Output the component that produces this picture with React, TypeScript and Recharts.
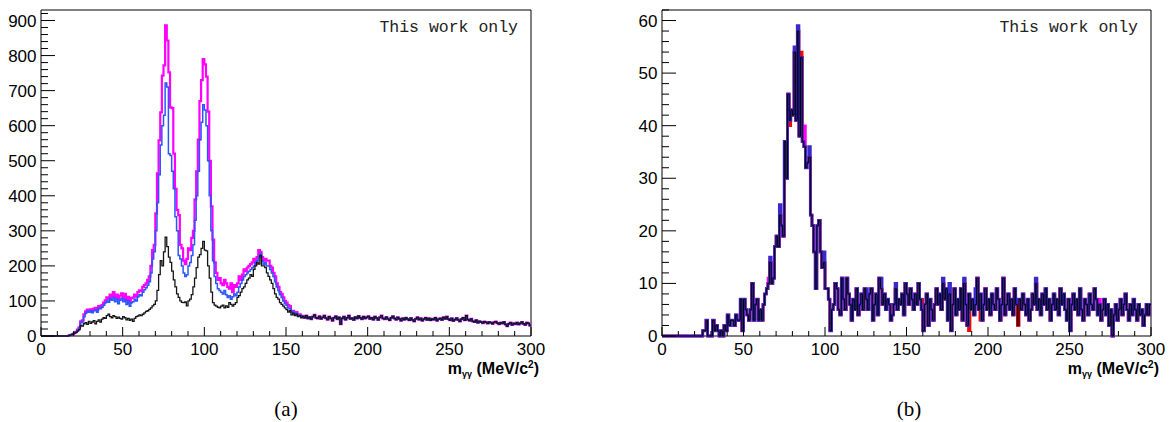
import React from 'react';
import { LineChart, Line, XAxis, YAxis, ReferenceArea } from 'recharts';

// 1 MeV bins, 0..300 MeV
const xTicks = [0, 10, 20, 30, 40, 50, 60, 70, 80, 90, 100, 110, 120, 130, 140, 150, 160, 170, 180, 190, 200,
  210, 220, 230, 240, 250, 260, 270, 280, 290, 300];

const yTicksA = [0, 20, 40, 60, 80, 100, 120, 140, 160, 180, 200, 220, 240, 260, 280, 300, 320, 340, 360, 380,
  400, 420, 440, 460, 480, 500, 520, 540, 560, 580, 600, 620, 640, 660, 680, 700, 720, 740, 760, 780,
  800, 820, 840, 860, 880, 900, 920];

const yTicksB = [0, 2, 4, 6, 8, 10, 12, 14, 16, 18, 20, 22, 24, 26, 28, 30, 32, 34, 36, 38, 40,
  42, 44, 46, 48, 50, 52, 54, 56, 58, 60, 62];

// panel (a), bins 0..159
const aMagenta = [
  0, 0, 0, 0, 0, 0, 0, 0, 0, 0,
  0, 0, 0, 0, 0, 0, 0, 2, 3, 5,
  8, 12, 18, 25, 42, 45, 62, 70, 75, 72,
  76, 70, 78, 80, 74, 85, 82, 88, 95, 102,
  110, 105, 118, 112, 125, 110, 118, 105, 115, 122,
  108, 120, 100, 112, 95, 108, 110, 118, 112, 125,
  130, 128, 140, 145, 150, 160, 170, 200, 245, 260,
  350, 464, 558, 638, 743, 772, 886, 843, 752, 652,
  650, 520, 420, 360, 345, 260, 250, 215, 205, 220,
  250, 245, 280, 300, 390, 470, 560, 670, 730, 790,
  775, 740, 640, 500, 370, 275, 210, 180, 160, 165,
  150, 145, 160, 150, 140, 135, 150, 125, 145, 140,
  150, 170, 160, 175, 190, 185, 195, 200, 205, 210,
  220, 205, 225, 245, 240, 225, 215, 220, 215, 215,
  200, 195, 180, 170, 150, 140, 125, 120, 110, 100,
  95, 88, 85, 70, 72, 65, 68, 60, 62, 58,
];

const aBlue = [
  0, 0, 0, 0, 0, 0, 0, 0, 0, 0,
  0, 0, 0, 0, 0, 0, 0, 2, 3, 5,
  8, 11, 16, 22, 38, 40, 55, 65, 70, 68,
  72, 66, 72, 75, 68, 80, 78, 82, 88, 95,
  100, 96, 108, 102, 110, 98, 106, 92, 102, 108,
  98, 104, 90, 100, 85, 95, 98, 105, 100, 112,
  118, 115, 125, 132, 138, 145, 155, 180, 220, 240,
  300, 380, 460, 545, 600, 630, 722, 710, 520, 515,
  470, 420, 340, 300, 230, 220, 200, 180, 170, 175,
  200, 210, 230, 260, 330, 400, 470, 560, 610, 660,
  645, 600, 500, 400, 300, 215, 170, 150, 135, 130,
  125, 120, 130, 118, 110, 115, 105, 112, 120, 115,
  125, 140, 150, 160, 170, 175, 180, 185, 190, 195,
  200, 210, 215, 225, 235, 215, 205, 210, 200, 200,
  190, 180, 170, 155, 140, 130, 118, 110, 100, 92,
  88, 80, 78, 68, 70, 62, 65, 58, 60, 55,
];

const aBlack = [
  0, 0, 0, 0, 0, 0, 0, 0, 0, 0,
  0, 0, 0, 0, 0, 0, 0, 2, 3, 5,
  8, 10, 14, 18, 30, 28, 35, 38, 33, 42,
  36, 40, 44, 35, 42, 46, 40, 48, 52, 50,
  58, 62, 55, 52, 58, 55, 50, 54, 50, 48,
  55, 52, 46, 50, 45, 48, 42, 50, 55, 57,
  60, 58, 62, 66, 70, 72, 76, 80, 86, 90,
  100, 130, 175, 215, 200, 240, 282, 255, 225, 210,
  185, 160, 140, 120, 110, 100, 96, 95, 97, 86,
  100, 105, 118, 140, 165, 195, 225, 232, 250, 270,
  245, 243, 200, 165, 125, 95, 88, 85, 82, 80,
  85, 88, 80, 86, 82, 95, 90, 85, 90, 95,
  110, 115, 125, 135, 140, 150, 160, 165, 175, 170,
  190, 200, 210, 205, 230, 200, 200, 195, 180, 170,
  160, 150, 135, 120, 110, 105, 95, 90, 85, 80,
  75, 68, 72, 60, 65, 58, 62, 55, 58, 52,
];

// panel (a), bins 160..299, the three curves coincide here
const aTail = [
  56, 52, 58, 50, 54, 48, 55, 60, 52, 50, 56, 49, 53, 58, 51, 47, 55, 50, 44, 52,
  56, 48, 53, 34, 50, 55, 47, 52, 58, 49, 51, 46, 54, 50, 57, 52, 48, 55, 50, 53,
  56, 49, 52, 47, 55, 51, 46, 53, 58, 50, 48, 54, 49, 45, 52, 56, 50, 47, 53, 49,
  44, 50, 47, 52, 48, 45, 51, 46, 42, 49, 53, 47, 50, 44, 48, 52, 46, 50, 45, 49,
  47, 52, 44, 48, 50, 46, 53, 49, 55, 48, 45, 50, 43, 47, 51, 46, 42, 48, 52, 45,
  58, 47, 44, 49, 42, 40, 45, 38, 42, 40, 37, 41, 39, 36, 40, 38, 35, 39, 41, 37,
  34, 38, 36, 40, 33, 28, 35, 38, 32, 36, 34, 38, 33, 36, 40, 35, 32, 38, 36, 30,
];

// panel (b), bins 0..299 (black curve)
const bCounts = [
  0, 0, 0, 0, 0, 0, 0, 0, 0, 0,
  0, 0, 0, 0, 0, 0, 0, 0, 0, 0,
  0, 0, 0, 0, 0, 1, 1, 3, 0, 0,
  0, 3, 1, 2, 1, 0, 1, 0, 2, 1,
  4, 2, 3, 3, 2, 4, 3, 3, 7, 1,
  7, 5, 4, 3, 5, 10, 3, 6, 7, 3,
  5, 3, 6, 8, 9, 10, 14, 10, 11, 17,
  19, 17, 23, 21, 19, 37, 30, 46, 41, 43,
  42, 54, 41, 58, 38, 53, 37, 36, 32, 33,
  34, 23, 21, 16, 9, 21, 22, 16, 13, 14,
  9, 9, 7, 1, 5, 6, 10, 9, 5, 4,
  11, 7, 5, 11, 8, 6, 3, 7, 5, 9,
  4, 6, 8, 5, 9, 7, 5, 8, 9, 3,
  6, 8, 4, 11, 9, 6, 8, 5, 7, 6,
  3, 4, 6, 9, 5, 7, 6, 8, 4, 10,
  8, 6, 9, 7, 5, 8, 6, 10, 7, 5,
  1, 6, 8, 2, 7, 5, 3, 6, 9, 6,
  8, 5, 10, 7, 9, 3, 8, 1, 6, 9,
  4, 7, 5, 9, 3, 10, 6, 2, 8, 5,
  7, 4, 6, 11, 5, 8, 3, 6, 9, 5,
  7, 4, 8, 6, 5, 9, 7, 3, 6, 11,
  4, 6, 8, 5, 7, 4, 9, 6, 2, 7,
  5, 8, 6, 4, 7, 3, 5, 8, 6, 10,
  5, 7, 4, 8, 6, 9, 5, 7, 3, 6,
  8, 5, 7, 4, 9, 6, 8, 5, 3, 7,
  1, 6, 8, 5, 7, 4, 9, 5, 3, 7,
  6, 4, 8, 6, 5, 9, 7, 4, 6, 3,
  5, 7, 4, 6, 2, 5, 0, 4, 6, 3,
  5, 7, 4, 6, 8, 5, 3, 6, 4, 7,
  5, 3, 6, 4, 5, 2, 4, 6, 4, 6,
];

// bins where the other panel (b) curves differ from the black one: [bin, count]
const bBlueDiff = [[66, 15], [72, 25], [81, 55], [83, 59], [90, 36], [99, 16], [125, 9], [134, 11], [143, 10],
  [172, 11], [176, 10], [185, 11], [192, 9], [218, 7], [229, 11]];
const bRedDiff = [[78, 40], [85, 54], [159, 7], [188, 1], [195, 3]];
const bMagentaDiff = [[65, 11], [87, 40], [141, 6], [253, 7], [268, 7]];

const SANS = '"Liberation Sans", Arial, Helvetica, sans-serif';

function withDiff(base: number[], diff: number[][]) {
  const out = base.slice();
  diff.forEach(([bin, v]) => { out[bin] = v; });
  return out;
}

function buildRows(series: Record<string, number[]>) {
  const rows: any[] = [];
  for (let i = 0; i <= 300; i++) {
    const row: any = { x: i };
    Object.keys(series).forEach((k) => {
      row[k] = series[k][Math.min(i, 299)] ?? 0;
    });
    rows.push(row);
  }
  return rows;
}

const dataA = buildRows({
  magenta: aMagenta.concat(aTail),
  blue: aBlue.concat(aTail),
  black: aBlack.concat(aTail),
});

const dataB = buildRows({
  magenta: withDiff(bCounts, bMagentaDiff),
  red: withDiff(bCounts, bRedDiff),
  blue: withDiff(bCounts, bBlueDiff),
  black: bCounts,
});

const XTick = (props: any) => {
  const { x, y, payload } = props;
  const v = payload.value;
  const major = v % 50 === 0;
  return (
    <g>
      <line x1={x} y1={y} x2={x} y2={y - (major ? 9 : 5)} stroke="#000" strokeWidth={1} />
      {major && (
        <text x={x} y={y + 19} textAnchor="middle" fontSize={17} fontFamily={SANS} fill="#000">{v}</text>
      )}
    </g>
  );
};

const YTick = (props: any) => {
  const { x, y, payload, step } = props;
  const v = payload.value;
  const major = v % step === 0;
  return (
    <g>
      <line x1={x} y1={y} x2={x + (major ? 14 : 7)} y2={y} stroke="#000" strokeWidth={1} />
      {major && (
        <text x={x - 4.5} y={y + 6} textAnchor="end" fontSize={17} fontFamily={SANS} fill="#000">{v}</text>
      )}
    </g>
  );
};

const Panel = (props: { data: any[]; yMax: number; yTicks: number[]; step: number; yAxisWidth: number;
  width: number; right: number; children: React.ReactNode }) => (
  <LineChart width={props.width} height={380} data={props.data}
    margin={{ top: 10, right: props.right, left: 0, bottom: 0 }}>
    <XAxis dataKey="x" type="number" domain={[0, 300]} ticks={xTicks} interval={0} height={44}
      tickSize={0} tickMargin={0} axisLine={false} tickLine={false} tick={(p: any) => <XTick {...p} />} />
    <YAxis type="number" domain={[0, props.yMax]} ticks={props.yTicks} interval={0} width={props.yAxisWidth}
      tickSize={0} tickMargin={0} axisLine={false} tickLine={false}
      tick={(p: any) => <YTick {...p} step={props.step} />} />
    {props.children}
    <ReferenceArea x1={0} x2={300} y1={0} y2={props.yMax} fill="none" stroke="#000" strokeWidth={1} />
  </LineChart>
);

const Title = ({ x }: { x: number }) => (
  <text x={x} y={374} textAnchor="end" fontSize={16} fontWeight="bold" fontFamily={SANS} fill="#000">
    m<tspan fontSize={9} dy={3}>γγ</tspan>
    <tspan dy={-3}> (MeV/c</tspan>
    <tspan fontSize={10} dy={-6}>2</tspan>
    <tspan dy={6}>)</tspan>
  </text>
);

const App = () => (
  <div style={{ position: 'absolute', left: 0, top: 0, width: 1171, height: 422, background: '#fff', overflow: 'hidden' }}>
    <div style={{ position: 'absolute', left: 0, top: 0 }}>
      <Panel data={dataA} yMax={930} yTicks={yTicksA} step={100} yAxisWidth={41} width={580} right={49}>
        <Line dataKey="magenta" type="stepAfter" stroke="#ff00ff" strokeWidth={2.2} dot={false} isAnimationActive={false} />
        <Line dataKey="blue" type="stepAfter" stroke="#2a55ff" strokeWidth={1.5} dot={false} isAnimationActive={false} />
        <Line dataKey="black" type="stepAfter" stroke="#151515" strokeWidth={1.3} dot={false} isAnimationActive={false} />
      </Panel>
    </div>
    <div style={{ position: 'absolute', left: 620, top: 0 }}>
      <Panel data={dataB} yMax={62} yTicks={yTicksB} step={10} yAxisWidth={42} width={551} right={20}>
        <Line dataKey="magenta" type="stepAfter" stroke="#ff00ff" strokeWidth={2.6} dot={false} isAnimationActive={false} />
        <Line dataKey="red" type="stepAfter" stroke="#ff0000" strokeWidth={2.6} dot={false} isAnimationActive={false} />
        <Line dataKey="blue" type="stepAfter" stroke="#3c28c8" strokeWidth={2.8} dot={false} isAnimationActive={false} />
        <Line dataKey="black" type="stepAfter" stroke="#000000" strokeWidth={1} dot={false} isAnimationActive={false} />
      </Panel>
    </div>
    <svg width={1171} height={422} style={{ position: 'absolute', left: 0, top: 0, pointerEvents: 'none' }}>
      <text x={518} y={32} textAnchor="end" fontSize={16.5} fontFamily='"Liberation Mono", "Courier New", monospace' fill="#222">This work only</text>
      <text x={1138} y={32} textAnchor="end" fontSize={16.5} fontFamily='"Liberation Mono", "Courier New", monospace' fill="#222">This work only</text>
      <Title x={539} />
      <Title x={1159} />
      <text x={286} y={416} textAnchor="middle" fontSize={21} fontFamily='"Liberation Serif", "Times New Roman", serif' fill="#000">(a)</text>
      <text x={909} y={416} textAnchor="middle" fontSize={21} fontFamily='"Liberation Serif", "Times New Roman", serif' fill="#000">(b)</text>
    </svg>
  </div>
);

export default App;
